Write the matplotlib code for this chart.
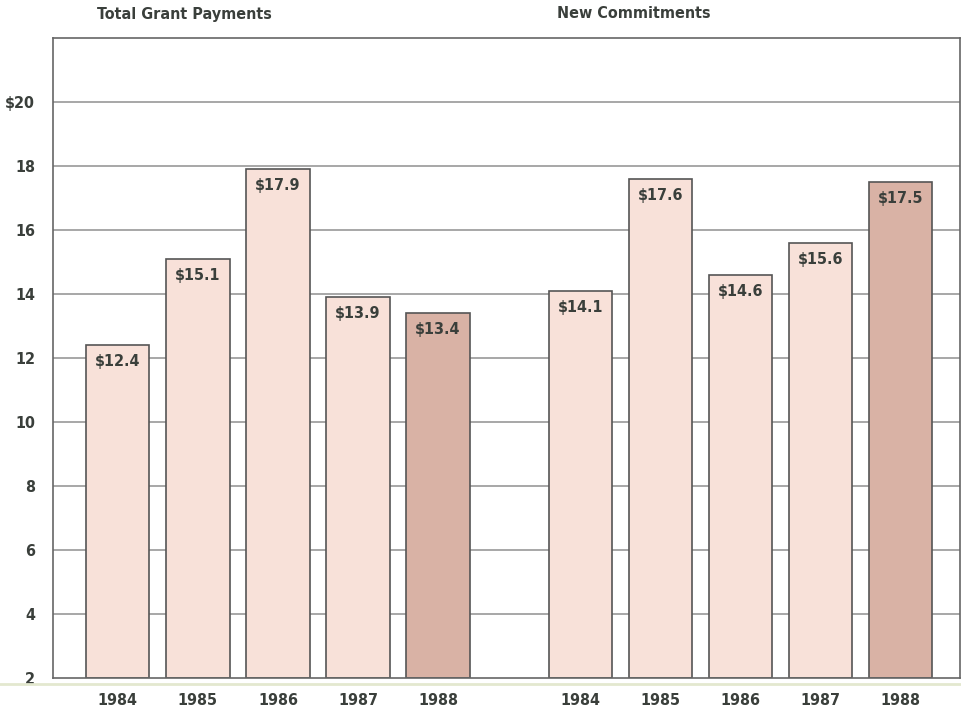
import numpy as np
import matplotlib.pyplot as plt

years = ['1984', '1985', '1986', '1987', '1988']
grant_payments = [12.4, 15.1, 17.9, 13.9, 13.4]
new_commitments = [14.1, 17.6, 14.6, 15.6, 17.5]
panel_titles = ['Total Grant Payments', 'New Commitments']
yticks = [2, 4, 6, 8, 10, 12, 14, 16, 18, 20]
ytick_labels = ['2', '4', '6', '8', '10', '12', '14', '16', '18', '$20']

plt.rcParams['font.family'] = ['DejaVu Sans']
plt.rcParams['font.stretch'] = 'condensed'
txt = '#3a3f3b'
light = '#f8e1d9'
dark = '#d9b2a5'
fkw = dict(fontweight='bold', color=txt, fontstretch='condensed')

fig = plt.figure(figsize=(9.61, 7.17), dpi=100)
ax = fig.add_axes([53 / 961, 1 - 678 / 717, 907 / 961, 640 / 717])

x1 = np.arange(5)
x2 = np.arange(5) + 5.78
colors = [light, light, light, light, dark]
w = 0.79

# grid lines behind bars
for t in yticks[1:]:
    ax.axhline(t, color='#8f8f8f', lw=1.1, zorder=0)

for xs, vals in [(x1, grant_payments), (x2, new_commitments)]:
    ax.bar(xs, np.array(vals) - 2, bottom=2, width=w, color=colors,
           edgecolor='#555555', linewidth=1.2, zorder=2)
    for x, v in zip(xs, vals):
        ax.text(x, v - 0.28, f'${v}', ha='center', va='top', fontsize=11.5,
                zorder=3, **fkw)
    for x, y in zip(xs, years):
        ax.text(x, 1.3, y, ha='center', va='center', fontsize=11.5,
                clip_on=False, **fkw)

ax.set_xlim(-0.81, 10.52)
ax.set_ylim(2, 22)
ax.set_yticks(yticks)
ax.set_yticklabels(ytick_labels, fontsize=11.5, **fkw)
ax.tick_params(axis='y', length=0, pad=13)
ax.set_xticks([])
for s in ax.spines.values():
    s.set_color('#666666')
    s.set_linewidth(1.2)

fig.text(184 / 961, 1 - 15 / 717, panel_titles[0], ha='center', va='center',
         fontsize=11.5, **fkw)
fig.text(634 / 961, 1 - 13 / 717, panel_titles[1], ha='center', va='center',
         fontsize=11.5, **fkw)

# pale rule under the chart
fig.add_artist(plt.Line2D([0, 1], [1 - 684 / 717] * 2, color='#e3e8cf', lw=2,
                          transform=fig.transFigure))

fig.savefig('out.png', dpi=100)
